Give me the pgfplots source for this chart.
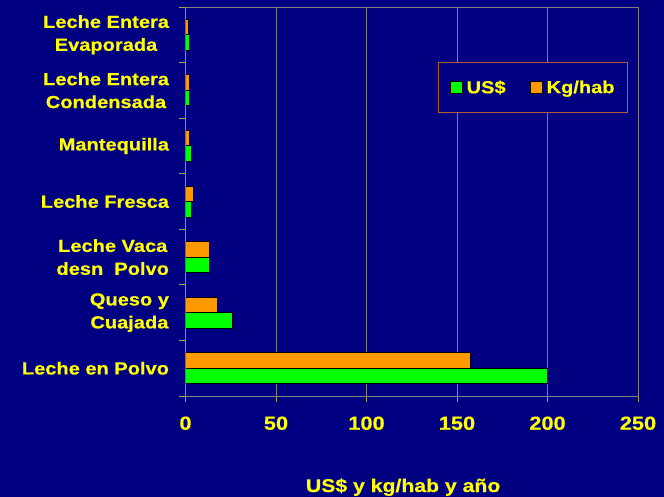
\documentclass[border=0pt]{standalone}
\usepackage{pgfplots}
\pgfplotsset{compat=1.18}
\usepackage{fontspec}
\setmainfont{Liberation Sans}[FakeStretch=1.15, BoldFeatures={FakeBold=0.4}]
\definecolor{bg}{RGB}{0,0,128}
\definecolor{ylw}{RGB}{255,255,0}
\definecolor{grn}{RGB}{0,255,0}
\definecolor{org}{RGB}{255,153,0}
\definecolor{khaki}{RGB}{176,160,64}
\definecolor{lgnd}{RGB}{176,96,48}
\definecolor{gridgray}{RGB}{128,128,128}
\pgfplotsset{/pgfplots/xbar legend/.style={/pgfplots/legend image code/.code={\draw[##1,/tikz/.cd,draw=black,line width=1bp] (0bp,-6bp) rectangle (12bp,6bp);}}}
\begin{document}
\begin{tikzpicture}
\fill[bg] (0,0) rectangle (664bp,497bp);
\path[use as bounding box] (0,0) rectangle (664bp,497bp);
\begin{axis}[
  at={(185.5bp,101bp)}, anchor=south west,
  scale only axis, width=452.5bp, height=389bp,
  xbar, bar width=15.5bp,
  xmin=0, xmax=250, ymin=-0.5, ymax=6.5,
  axis line style={draw=gridgray, line width=1bp},
  xtick pos=bottom, ytick pos=left, tick align=outside,
  major tick length=6bp,
  xtick={0,50,...,250},
  xmajorgrids, major grid style={draw=gridgray, line width=1bp},
  ytick={-0.5,0.5,...,6.5}, yticklabels={},
  tick style={draw=khaki, line width=1bp},
  extra y ticks={0,1,2,3,4,5,6},
  extra y tick labels={Leche en Polvo, {Queso y\\Cuajada}, {Leche Vaca\\desn\ \ Polvo}, Leche Fresca, Mantequilla, {Leche Entera\\Condensada}, {Leche Entera\\Evaporada}},
  extra y tick style={major tick length=0pt, yticklabel style={anchor=east, align=center, xshift=-13bp, text=ylw, font=\fontsize{17.5}{23}\selectfont\bfseries}},
  /pgf/number format/assume math mode=true,
  xticklabel style={text=ylw, font=\fontsize{19}{22}\selectfont\bfseries, yshift=-11bp},
  xlabel={US\$ y kg/hab y año},
  xlabel style={at={(axis description cs:0.481,0)}, anchor=base, yshift=-96bp, text=ylw, font=\fontsize{18.5}{20}\selectfont\bfseries},
  legend style={at={(rel axis cs:0.978,0.859)}, anchor=north east, draw=lgnd, line width=1bp, fill=bg, text=ylw, font=\fontsize{17.5}{20}\selectfont\bfseries, legend columns=2, /tikz/every even column/.append style={column sep=22bp}, /tikz/every odd column/.append style={column sep=2bp}, inner xsep=11bp, inner ysep=16bp},
]
\addplot[fill=grn, draw=black, line width=1bp, bar shift=-7.75bp] coordinates {(200,0) (25.8,1) (13.4,2) (3.3,3) (3.3,4) (2.4,5) (2.4,6)};
\addplot[fill=org, draw=black, line width=1bp, bar shift=7.75bp] coordinates {(157.4,0) (17.5,1) (13.4,2) (4.3,3) (2.4,4) (2.4,5) (1.7,6)};
\legend{US\$, Kg/hab}
\draw[khaki, line width=1.2bp] (rel axis cs:0,0) -- (rel axis cs:0,1);
\draw[ylw, line width=1bp] (rel axis cs:-0.012,0) -- (rel axis cs:1,0);
\end{axis}
\end{tikzpicture}
\end{document}
